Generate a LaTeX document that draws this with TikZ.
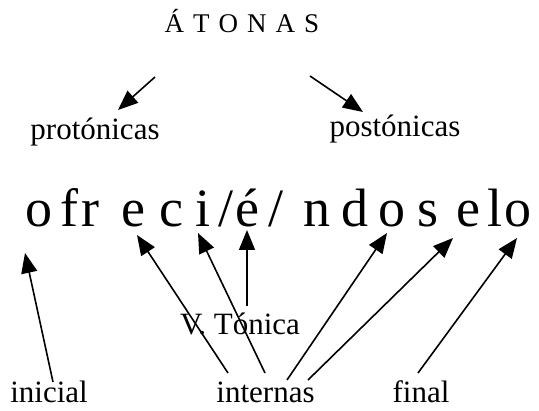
\documentclass[tikz,border=0pt]{standalone}
\usepackage{fontspec}
\setmainfont{Liberation Serif}
\usetikzlibrary{arrows.meta}
\begin{document}
\begin{tikzpicture}[x=1pt,y=-1pt,
  lbl/.style={anchor=base,inner sep=0pt,font=\fontsize{31}{32}\selectfont},
  ttl/.style={anchor=base,inner sep=0pt,font=\fontsize{27}{28}\selectfont},
  lt/.style={anchor=base,inner sep=0pt,font=\fontsize{54}{54}\selectfont},
  arr/.style={line width=1.6pt,-{Triangle[length=20pt,width=16pt]}}]
\useasboundingbox (0,0) rectangle (539,411);
% title
\node[ttl] (atonas) at (242,33) {Á\kern9ptT\kern9ptO\kern9ptN\kern9ptA\kern9ptS};
\node[lbl] (pro) at (95,140) {protónicas};
\node[lbl] (pos) at (395,137) {postónicas};
% word letters
\node[lt] (o1) at (38.5,227) {o};
\node[lt] (f)  at (69,227) {f};
\node[lt] (r)  at (90,227) {r};
\node[lt] (e1) at (133.5,227) {e};
\node[lt] (c)  at (171,227) {c};
\node[lt] (i)  at (202.5,227) {i};
\node[lt] (s1) at (226.5,227) {/};
\node[lt] (e2) at (247.5,227) {é};
\node[lt] (s2) at (276,227) {/};
\node[lt] (n)  at (316.5,227) {n};
\node[lt] (d)  at (355,227) {d};
\node[lt] (o2) at (391.5,227) {o};
\node[lt] (s)  at (428,227) {s};
\node[lt] (e3) at (468.5,227) {e};
\node[lt] (l)  at (495,227) {l};
\node[lt] (o3) at (518,227) {o};
% bottom labels
\node[lbl] (vt) at (240,335) {V. Tónica};
\node[lbl] (ini) at (49,403) {inicial};
\node[lbl] (int) at (265.5,403) {internas};
\node[lbl] (fin) at (421,403) {final};
% top arrows
\draw[arr] ([shift={(-87,44)}]atonas.base) -- ([shift={(23,-30)}]pro.base);
\draw[arr] ([shift={(68,43)}]atonas.base) -- ([shift={(-32,-25)}]pos.base);
% bottom arrows
\draw[arr] ([shift={(4,-21)}]ini.base) -- ([shift={(-13.5,26)}]o1.base);
\draw[arr] ([shift={(-37.5,-30)}]int.base) -- ([shift={(3.5,8)}]e1.base);
\draw[arr] ([shift={(-0.5,-30)}]int.base) -- ([shift={(-4.5,6)}]i.base);
\draw[arr] ([shift={(7,-29)}]vt.base) -- ([shift={(-0.5,3)}]e2.base);
\draw[arr] ([shift={(21.5,-23)}]int.base) -- ([shift={(-4.5,6)}]o2.base);
\draw[arr] ([shift={(42.5,-23)}]int.base) -- ([shift={(-15.5,11)}]e3.base);
\draw[arr] ([shift={(-3,-30)}]fin.base) -- ([shift={(-1,11)}]o3.base);
\end{tikzpicture}
\end{document}
